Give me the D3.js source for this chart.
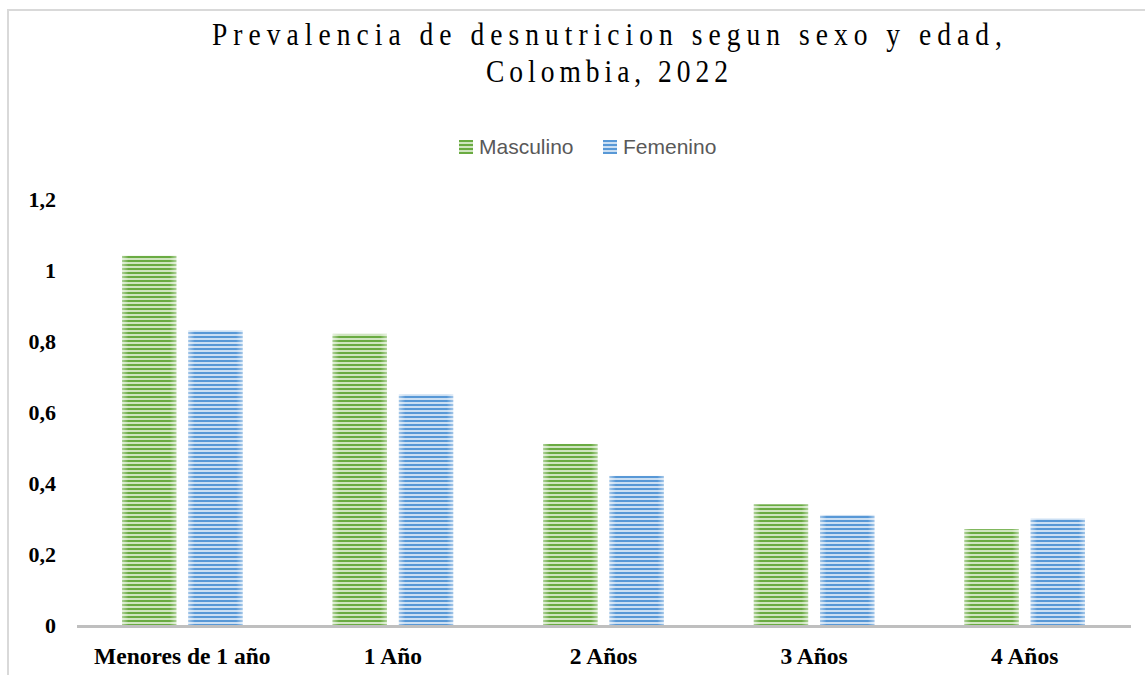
<!DOCTYPE html>
<html lang="es">
<head>
  <meta charset="UTF-8">
  <title>Prevalencia de desnutricion</title>
  <script src="https://cdn.jsdelivr.net/npm/d3@7"></script>
  <style>
    body { margin: 0; background: #fff; overflow: hidden; }
    .tick-label { font-family: "Liberation Serif", "Times New Roman", serif; font-weight: bold; fill: #000; }
    .title { font-family: "Liberation Serif", "Times New Roman", serif; font-size: 32px; fill: #000; }
    .legend text { font-family: "Liberation Sans", Arial, sans-serif; font-size: 21px; fill: #595959; }
  </style>
</head>
<body>
  <div id="chart"></div>
  <script>
    const categories = ['Menores de 1 año', '1 Año', '2 Años', '3 Años', '4 Años'];
    const seriesNames = ['Masculino', 'Femenino'];
    const masculino = [1.04, 0.82, 0.51, 0.34, 0.27];
    const femenino = [0.83, 0.65, 0.42, 0.31, 0.30];
    const yTicks = [0, 0.2, 0.4, 0.6, 0.8, 1, 1.2];

    const width = 1145, height = 675;
    const colors = { Masculino: ['#6aab42', '#cfe5c0'], Femenino: ['#5898d6', '#cbdff3'] };

    const svg = d3.select('#chart').append('svg')
      .attr('width', width)
      .attr('height', height);

    // striped fills
    const defs = svg.append('defs');
    seriesNames.forEach(name => {
      const p = defs.append('pattern')
        .attr('id', 'pat-' + name)
        .attr('patternUnits', 'userSpaceOnUse')
        .attr('width', 8).attr('height', 4);
      p.append('rect').attr('width', 8).attr('height', 4).attr('fill', colors[name][1]);
      p.append('rect').attr('width', 8).attr('height', 2).attr('fill', colors[name][0]);
    });
    const edge = defs.append('linearGradient').attr('id', 'edge');
    [[0, 0.45], [0.12, 0], [0.88, 0], [1, 0.45]].forEach(([o, a]) => {
      edge.append('stop').attr('offset', o).attr('stop-color', '#fff').attr('stop-opacity', a);
    });

    // chart border
    svg.append('rect')
      .attr('x', 8).attr('y', 10)
      .attr('width', width + 20).attr('height', height + 20)
      .attr('fill', 'none')
      .attr('stroke', '#d9d9d9')
      .attr('stroke-width', 2);

    // title (narrow serif look)
    const sx = 0.86;
    const title = svg.append('g')
      .attr('transform', `translate(607,0) scale(${sx},1)`)
      .append('text').attr('class', 'title').attr('text-anchor', 'middle');
    title.append('tspan').attr('x', 0).attr('y', 45)
      .attr('textLength', 790 / sx).attr('lengthAdjust', 'spacing')
      .text('Prevalencia de desnutricion segun sexo y edad,');
    title.append('tspan').attr('x', 0).attr('y', 82)
      .attr('textLength', 242 / sx).attr('lengthAdjust', 'spacing')
      .text('Colombia, 2022');

    // legend
    const legend = svg.append('g').attr('class', 'legend');
    const legendX = [459, 603];
    seriesNames.forEach((name, i) => {
      legend.append('rect')
        .attr('x', legendX[i]).attr('y', 140)
        .attr('width', 14).attr('height', 14)
        .attr('fill', 'url(#pat-' + name + ')');
      legend.append('text')
        .attr('x', legendX[i] + 20).attr('y', 154)
        .text(name);
    });

    // scales
    const x0 = d3.scaleBand().domain(categories).range([77, 1130]);
    const x1 = d3.scaleBand().domain(seriesNames)
      .range([45, x0.bandwidth() - 45])
      .paddingInner(0.18);
    const y = d3.scaleLinear().domain([0, 1.2]).range([625, 199]);

    const fmt = v => String(+v.toFixed(1)).replace('.', ',');

    // y labels
    svg.append('g').selectAll('text')
      .data(yTicks)
      .join('text')
      .attr('class', 'tick-label')
      .style('font-size', '22px')
      .attr('x', 56)
      .attr('y', d => y(d))
      .attr('dy', '0.35em')
      .attr('text-anchor', 'end')
      .text(fmt);

    // bars
    const rows = categories.map((c, i) => ({ cat: c, values: [
      { name: 'Masculino', v: masculino[i] },
      { name: 'Femenino', v: femenino[i] }
    ] }));

    const groups = svg.append('g').selectAll('g')
      .data(rows)
      .join('g')
      .attr('transform', d => `translate(${x0(d.cat)},0)`);

    groups.selectAll('rect.bar')
      .data(d => d.values)
      .join('rect')
      .attr('class', 'bar')
      .attr('x', d => x1(d.name))
      .attr('y', d => y(d.v))
      .attr('width', x1.bandwidth())
      .attr('height', d => y(0) - y(d.v))
      .attr('fill', d => 'url(#pat-' + d.name + ')');

    groups.selectAll('rect.shade')
      .data(d => d.values)
      .join('rect')
      .attr('class', 'shade')
      .attr('x', d => x1(d.name))
      .attr('y', d => y(d.v))
      .attr('width', x1.bandwidth())
      .attr('height', d => y(0) - y(d.v))
      .attr('fill', 'url(#edge)');

    // x axis line
    svg.append('line')
      .attr('x1', 77).attr('x2', 1131)
      .attr('y1', y(0) + 1.5).attr('y2', y(0) + 1.5)
      .attr('stroke', '#bfbfbf')
      .attr('stroke-width', 3);

    // x labels
    svg.append('g').selectAll('text')
      .data(categories)
      .join('text')
      .attr('class', 'tick-label')
      .style('font-size', '23.5px')
      .attr('x', d => x0(d) + x0.bandwidth() / 2)
      .attr('y', 664)
      .attr('text-anchor', 'middle')
      .text(d => d);
  </script>
</body>
</html>
